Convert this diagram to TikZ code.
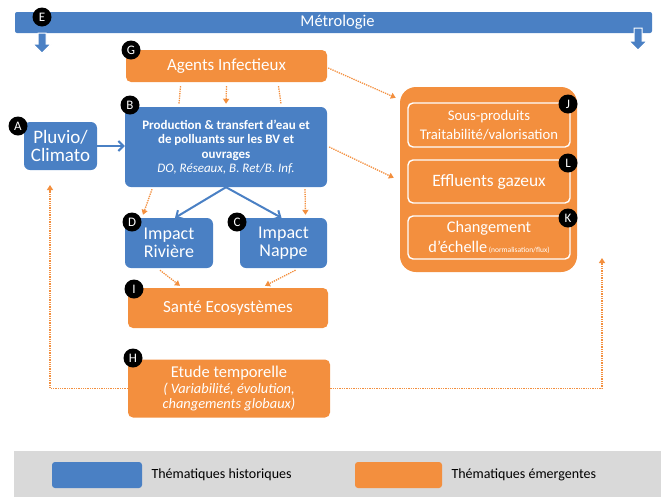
\documentclass[tikz,border=0pt]{standalone}
\usepackage{fontspec}
\setmainfont{Carlito}
\usetikzlibrary{arrows.meta,calc}
\definecolor{thblue}{RGB}{74,128,196}
\definecolor{thorange}{RGB}{243,143,62}
\definecolor{legendgray}{RGB}{217,217,217}
% font size with an optional line-spacing factor
\newcommand{\fs}[2][1.15]{\fontsize{#2}{#1\dimexpr #2pt\relax}\selectfont}
\begin{document}
\begin{tikzpicture}[x=1pt,y=-1pt,
  bluebox/.style={fill=thblue,rounded corners=6pt,text=white,align=center,inner sep=0pt},
  orangebox/.style={fill=thorange,rounded corners=5pt,text=white,align=center,inner sep=0pt},
  innerbox/.style={draw=white,line width=1.4pt,rounded corners=5pt,text=white,align=center,inner sep=0pt},
  tag/.style={circle,fill=black,text=white,minimum size=19pt,inner sep=0pt,font={\fs{13}}},
  dotarrow/.style={draw=thorange,line width=1.3pt,densely dotted,-{Triangle[length=5pt,width=6pt,fill=thorange]}},
  dotline/.style={draw=thorange,line width=1.3pt,densely dotted},
  bluearrow/.style={draw=thblue,line width=2pt,-{Straight Barb[length=5pt,width=10pt]}},
  blockarrow/.style={fill=thblue,draw=white,line width=1pt}]
\useasboundingbox (0,0) rectangle (661,499);

% legend band
\fill[legendgray] (14,451) rectangle (661,497);
\node[fill=thblue,rounded corners=3pt,minimum width=90pt,minimum height=26pt,inner sep=0pt] (swb) at (97,475) {};
\node[anchor=west,font={\fs{14}}] (lgb) at (148,475) {Thématiques historiques};
\node[fill=thorange,rounded corners=3pt,minimum width=87pt,minimum height=26pt,inner sep=0pt] (swo) at (398.5,475) {};
\node[anchor=west,font={\fs{14}}] (lgo) at (448,475) {Thématiques émergentes};

% metrology bar and its down arrows
\node[fill=thblue,rounded corners=2pt,minimum width=637pt,minimum height=21pt,inner sep=0pt,text=white,font={\fs{16.5}}] (E) at (333.5,22.5) {\hspace*{8pt}Métrologie};
\path[blockarrow] (38,33) -- (46,33) -- (46,44) -- (51,44) -- (42,53) -- (33,44) -- (38,44) -- cycle;
\path[blockarrow] (634,28) -- (642,28) -- (642,41) -- (647,41) -- (638,50) -- (629,41) -- (634,41) -- cycle;

% main boxes
\node[orangebox,minimum width=201pt,minimum height=32pt,font={\fs{17}}] (G) at (226.5,66) {Agents Infectieux};
\node[bluebox,minimum width=202pt,minimum height=80pt,font={\fs[1.12]{13}}] (B) at (226,147)
  {\textbf{Production \& transfert d'eau et}\\\textbf{de polluants sur les BV et}\\\textbf{ouvrages}\\\textit{DO, Réseaux, B. Ret/B. Inf.}};
\node[bluebox,minimum width=73pt,minimum height=48pt,font={\fs[0.98]{19}}] (A) at (60.5,146) {Pluvio/\\Climato};
\node[bluebox,minimum width=88pt,minimum height=50pt,font={\fs[1.0]{18}}] (D) at (169,243) {Impact\\Rivière};
\node[bluebox,minimum width=87pt,minimum height=50pt,font={\fs[1.0]{18}}] (C) at (283.5,243) {Impact\\Nappe};
\node[orangebox,minimum width=200pt,minimum height=40pt,font={\fs{17}}] (I) at (228,308) {Santé Ecosystèmes};
\node[orangebox,minimum width=202pt,minimum height=58pt,font={\fs[0.95]{16.5}}] (H) at (229,388.5)
  {Etude temporelle\\{\fs[1.05]{14.4}\itshape ( Variabilité, évolution,}\\{\fs[1.05]{14.4}\itshape changements globaux)}};

% emerging topics group
\node[fill=thorange,rounded corners=16pt,minimum width=177pt,minimum height=185pt,inner sep=0pt] (grp) at (488.5,179.5) {};
\node[innerbox,minimum width=162pt,minimum height=44pt,font={\fs[1.3]{14.7}}] (J) at (489,125) {Sous-produits\\Traitabilité/valorisation};
\node[innerbox,minimum width=162pt,minimum height=43pt,font={\fs{17.4}}] (L) at (489,181.5) {Effluents gazeux};
\node[innerbox,minimum width=162pt,minimum height=43pt,font={\fs[1.25]{16.3}}] (K) at (489,237.5) {Changement\\d'échelle{\fs{7.5} (normalisation/flux)}};

% letter tags
\node[tag] (tE) at (42,17) {E};
\node[tag] (tG) at (131,50) {G};
\node[tag] (tB) at (130,105) {B};
\node[tag] (tA) at (18,126) {A};
\node[tag] (tJ) at (568,104) {J};
\node[tag] (tL) at (568,163) {L};
\node[tag] (tK) at (568,218) {K};
\node[tag] (tD) at (132,222) {D};
\node[tag] (tC) at (237,222) {C};
\node[tag] (tI) at (134,289) {I};
\node[tag] (tH) at (133,358) {H};

% solid connectors
\draw[bluearrow] (A.east) -- (B.west |- A.east);
\coordinate (bsplit) at (B.south);
\draw[bluearrow] (bsplit) -- ([xshift=6pt]D.north);
\draw[bluearrow] (bsplit) -- ([xshift=-2pt]C.north);

% dotted connectors (canvas y points up for the shifts)
\draw[dotline] ([xshift=-46pt,yshift=-4pt]G.south) -- ([xshift=-47pt,yshift=3pt]B.north);
\draw[dotarrow] ([yshift=-4pt]G.south) -- ([yshift=3pt]B.north);
\draw[dotline] ([xshift=52pt,yshift=-4pt]G.south) -- ([xshift=55pt,yshift=3pt]B.north);
\draw[dotarrow] ([xshift=1pt,yshift=-2pt]G.east) -- ([xshift=-4pt,yshift=-11pt]grp.north west);
\draw[dotarrow] ([xshift=2pt]B.east) -- ([xshift=-6pt,yshift=-91pt]grp.north west);
\draw[dotarrow] ([xshift=-74pt,yshift=-2pt]B.south) -- ([xshift=-26pt,yshift=3pt]D.north);
\draw[dotarrow] ([xshift=79pt,yshift=-2pt]B.south) -- ([xshift=22pt,yshift=3pt]C.north);
\draw[dotarrow] ([xshift=-9pt,yshift=-2pt]D.south) -- ([xshift=-48pt,yshift=2pt]I.north);
\draw[dotarrow] ([xshift=12pt,yshift=-2pt]C.south) -- ([xshift=37pt,yshift=2pt]I.north);
\coordinate (upA) at (50,185);
\coordinate (upK) at (602,258);
\draw[dotarrow] (H.west) -| (upA);
\draw[dotarrow] (H.east) -| (upK);
\end{tikzpicture}
\end{document}
